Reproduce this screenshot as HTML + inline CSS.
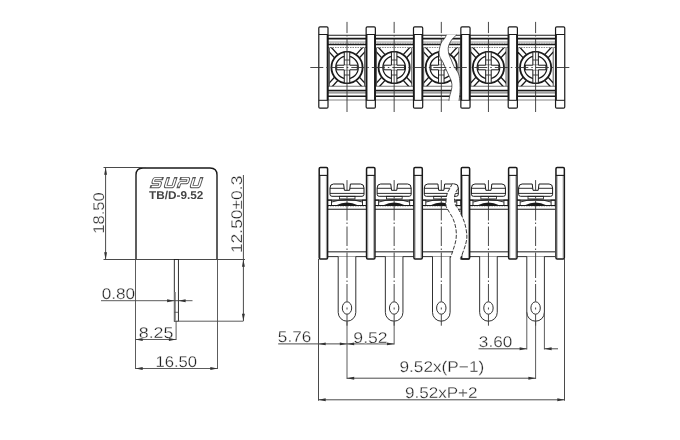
<!DOCTYPE html>
<html><head><meta charset="utf-8"><style>html,body{margin:0;padding:0;background:#fff;width:680px;height:440px;overflow:hidden}svg{display:block;filter:grayscale(1)}</style></head>
<body>
<svg width="680" height="440" viewBox="0 0 680 440" font-family="Liberation Sans, sans-serif">
<rect width="680" height="440" fill="#fff"/>
<line x1="327.50" y1="35.25" x2="366.50" y2="35.25" stroke="#1a1a1a" stroke-width="1" />
<line x1="327.50" y1="38.60" x2="366.50" y2="38.60" stroke="#1a1a1a" stroke-width="1.6" />
<line x1="327.50" y1="42.00" x2="366.50" y2="42.00" stroke="#777" stroke-width="0.8" />
<line x1="327.50" y1="43.30" x2="366.50" y2="43.30" stroke="#999" stroke-width="0.7" stroke-dasharray="1.5 1"/>
<line x1="327.50" y1="44.60" x2="366.50" y2="44.60" stroke="#1a1a1a" stroke-width="1.5" />
<line x1="327.50" y1="47.50" x2="366.50" y2="47.50" stroke="#666" stroke-width="0.8" stroke-dasharray="1.5 1"/>
<line x1="327.50" y1="86.25" x2="366.50" y2="86.25" stroke="#666" stroke-width="0.9" />
<line x1="327.50" y1="90.40" x2="366.50" y2="90.40" stroke="#1a1a1a" stroke-width="1.5" />
<line x1="327.50" y1="92.00" x2="366.50" y2="92.00" stroke="#999" stroke-width="1.3" />
<line x1="327.50" y1="93.10" x2="366.50" y2="93.10" stroke="#777" stroke-width="0.8" />
<line x1="327.50" y1="96.25" x2="366.50" y2="96.25" stroke="#1a1a1a" stroke-width="1.5" />
<line x1="327.50" y1="100.00" x2="366.50" y2="100.00" stroke="#777" stroke-width="0.9" />
<line x1="329.40" y1="47.50" x2="329.40" y2="86.25" stroke="#444" stroke-width="0.9" />
<line x1="364.60" y1="47.50" x2="364.60" y2="86.25" stroke="#444" stroke-width="0.9" />
<clipPath id="fc347"><rect x="329.40" y="47.5" width="35.2" height="38.75"/></clipPath>
<g clip-path="url(#fc347)">
<line x1="328.03" y1="43.87" x2="338.13" y2="54.87" stroke="#1a1a1a" stroke-width="1.4" />
<line x1="324.77" y1="47.13" x2="334.87" y2="58.13" stroke="#1a1a1a" stroke-width="1.4" />
<line x1="328.03" y1="91.13" x2="338.13" y2="80.13" stroke="#1a1a1a" stroke-width="1.4" />
<line x1="324.77" y1="87.87" x2="334.87" y2="76.87" stroke="#1a1a1a" stroke-width="1.4" />
<line x1="365.97" y1="43.87" x2="355.87" y2="54.87" stroke="#1a1a1a" stroke-width="1.4" />
<line x1="369.23" y1="47.13" x2="359.13" y2="58.13" stroke="#1a1a1a" stroke-width="1.4" />
<line x1="365.97" y1="91.13" x2="355.87" y2="80.13" stroke="#1a1a1a" stroke-width="1.4" />
<line x1="369.23" y1="87.87" x2="359.13" y2="76.87" stroke="#1a1a1a" stroke-width="1.4" />
</g>
<circle cx="347.0" cy="67.5" r="15.6" fill="#fff" stroke="#1a1a1a" stroke-width="1.8"/>
<circle cx="347.0" cy="67.5" r="11.3" fill="#fff" stroke="#1a1a1a" stroke-width="1.2"/>
<rect x="344.25" y="52" width="5.5" height="31" fill="#fff" stroke="#1a1a1a" stroke-width="1"/>
<rect x="336.70" y="65.2" width="20.6" height="4.6" fill="#fff" stroke="#1a1a1a" stroke-width="1"/>
<rect x="344.25" y="65.2" width="5.5" height="4.6" fill="#fff" stroke="none"/>
<line x1="344.25" y1="60.00" x2="349.75" y2="60.00" stroke="#1a1a1a" stroke-width="0.8" />
<line x1="344.25" y1="75.00" x2="349.75" y2="75.00" stroke="#1a1a1a" stroke-width="0.8" />
<line x1="347.00" y1="21.90" x2="347.00" y2="33.10" stroke="#333" stroke-width="0.9" />
<line x1="347.00" y1="35.30" x2="347.00" y2="36.50" stroke="#333" stroke-width="0.9" />
<line x1="347.00" y1="38.50" x2="347.00" y2="112.00" stroke="#333" stroke-width="0.9" />
<line x1="374.65" y1="35.25" x2="413.65" y2="35.25" stroke="#1a1a1a" stroke-width="1" />
<line x1="374.65" y1="38.60" x2="413.65" y2="38.60" stroke="#1a1a1a" stroke-width="1.6" />
<line x1="374.65" y1="42.00" x2="413.65" y2="42.00" stroke="#777" stroke-width="0.8" />
<line x1="374.65" y1="43.30" x2="413.65" y2="43.30" stroke="#999" stroke-width="0.7" stroke-dasharray="1.5 1"/>
<line x1="374.65" y1="44.60" x2="413.65" y2="44.60" stroke="#1a1a1a" stroke-width="1.5" />
<line x1="374.65" y1="47.50" x2="413.65" y2="47.50" stroke="#666" stroke-width="0.8" stroke-dasharray="1.5 1"/>
<line x1="374.65" y1="86.25" x2="413.65" y2="86.25" stroke="#666" stroke-width="0.9" />
<line x1="374.65" y1="90.40" x2="413.65" y2="90.40" stroke="#1a1a1a" stroke-width="1.5" />
<line x1="374.65" y1="92.00" x2="413.65" y2="92.00" stroke="#999" stroke-width="1.3" />
<line x1="374.65" y1="93.10" x2="413.65" y2="93.10" stroke="#777" stroke-width="0.8" />
<line x1="374.65" y1="96.25" x2="413.65" y2="96.25" stroke="#1a1a1a" stroke-width="1.5" />
<line x1="374.65" y1="100.00" x2="413.65" y2="100.00" stroke="#777" stroke-width="0.9" />
<line x1="376.55" y1="47.50" x2="376.55" y2="86.25" stroke="#444" stroke-width="0.9" />
<line x1="411.75" y1="47.50" x2="411.75" y2="86.25" stroke="#444" stroke-width="0.9" />
<clipPath id="fc394"><rect x="376.55" y="47.5" width="35.2" height="38.75"/></clipPath>
<g clip-path="url(#fc394)">
<line x1="375.18" y1="43.87" x2="385.28" y2="54.87" stroke="#1a1a1a" stroke-width="1.4" />
<line x1="371.92" y1="47.13" x2="382.02" y2="58.13" stroke="#1a1a1a" stroke-width="1.4" />
<line x1="375.18" y1="91.13" x2="385.28" y2="80.13" stroke="#1a1a1a" stroke-width="1.4" />
<line x1="371.92" y1="87.87" x2="382.02" y2="76.87" stroke="#1a1a1a" stroke-width="1.4" />
<line x1="413.12" y1="43.87" x2="403.02" y2="54.87" stroke="#1a1a1a" stroke-width="1.4" />
<line x1="416.38" y1="47.13" x2="406.28" y2="58.13" stroke="#1a1a1a" stroke-width="1.4" />
<line x1="413.12" y1="91.13" x2="403.02" y2="80.13" stroke="#1a1a1a" stroke-width="1.4" />
<line x1="416.38" y1="87.87" x2="406.28" y2="76.87" stroke="#1a1a1a" stroke-width="1.4" />
</g>
<circle cx="394.15" cy="67.5" r="15.6" fill="#fff" stroke="#1a1a1a" stroke-width="1.8"/>
<circle cx="394.15" cy="67.5" r="11.3" fill="#fff" stroke="#1a1a1a" stroke-width="1.2"/>
<rect x="391.40" y="52" width="5.5" height="31" fill="#fff" stroke="#1a1a1a" stroke-width="1"/>
<rect x="383.85" y="65.2" width="20.6" height="4.6" fill="#fff" stroke="#1a1a1a" stroke-width="1"/>
<rect x="391.40" y="65.2" width="5.5" height="4.6" fill="#fff" stroke="none"/>
<line x1="391.40" y1="60.00" x2="396.90" y2="60.00" stroke="#1a1a1a" stroke-width="0.8" />
<line x1="391.40" y1="75.00" x2="396.90" y2="75.00" stroke="#1a1a1a" stroke-width="0.8" />
<line x1="394.15" y1="21.90" x2="394.15" y2="33.10" stroke="#333" stroke-width="0.9" />
<line x1="394.15" y1="35.30" x2="394.15" y2="36.50" stroke="#333" stroke-width="0.9" />
<line x1="394.15" y1="38.50" x2="394.15" y2="112.00" stroke="#333" stroke-width="0.9" />
<line x1="421.80" y1="35.25" x2="460.80" y2="35.25" stroke="#1a1a1a" stroke-width="1" />
<line x1="421.80" y1="38.60" x2="460.80" y2="38.60" stroke="#1a1a1a" stroke-width="1.6" />
<line x1="421.80" y1="42.00" x2="460.80" y2="42.00" stroke="#777" stroke-width="0.8" />
<line x1="421.80" y1="43.30" x2="460.80" y2="43.30" stroke="#999" stroke-width="0.7" stroke-dasharray="1.5 1"/>
<line x1="421.80" y1="44.60" x2="460.80" y2="44.60" stroke="#1a1a1a" stroke-width="1.5" />
<line x1="421.80" y1="47.50" x2="460.80" y2="47.50" stroke="#666" stroke-width="0.8" stroke-dasharray="1.5 1"/>
<line x1="421.80" y1="86.25" x2="460.80" y2="86.25" stroke="#666" stroke-width="0.9" />
<line x1="421.80" y1="90.40" x2="460.80" y2="90.40" stroke="#1a1a1a" stroke-width="1.5" />
<line x1="421.80" y1="92.00" x2="460.80" y2="92.00" stroke="#999" stroke-width="1.3" />
<line x1="421.80" y1="93.10" x2="460.80" y2="93.10" stroke="#777" stroke-width="0.8" />
<line x1="421.80" y1="96.25" x2="460.80" y2="96.25" stroke="#1a1a1a" stroke-width="1.5" />
<line x1="421.80" y1="100.00" x2="460.80" y2="100.00" stroke="#777" stroke-width="0.9" />
<line x1="423.70" y1="47.50" x2="423.70" y2="86.25" stroke="#444" stroke-width="0.9" />
<line x1="458.90" y1="47.50" x2="458.90" y2="86.25" stroke="#444" stroke-width="0.9" />
<clipPath id="fc441"><rect x="423.70" y="47.5" width="35.2" height="38.75"/></clipPath>
<g clip-path="url(#fc441)">
<line x1="422.33" y1="43.87" x2="432.43" y2="54.87" stroke="#1a1a1a" stroke-width="1.4" />
<line x1="419.07" y1="47.13" x2="429.17" y2="58.13" stroke="#1a1a1a" stroke-width="1.4" />
<line x1="422.33" y1="91.13" x2="432.43" y2="80.13" stroke="#1a1a1a" stroke-width="1.4" />
<line x1="419.07" y1="87.87" x2="429.17" y2="76.87" stroke="#1a1a1a" stroke-width="1.4" />
<line x1="460.27" y1="43.87" x2="450.17" y2="54.87" stroke="#1a1a1a" stroke-width="1.4" />
<line x1="463.53" y1="47.13" x2="453.43" y2="58.13" stroke="#1a1a1a" stroke-width="1.4" />
<line x1="460.27" y1="91.13" x2="450.17" y2="80.13" stroke="#1a1a1a" stroke-width="1.4" />
<line x1="463.53" y1="87.87" x2="453.43" y2="76.87" stroke="#1a1a1a" stroke-width="1.4" />
</g>
<circle cx="441.3" cy="67.5" r="15.6" fill="#fff" stroke="#1a1a1a" stroke-width="1.8"/>
<circle cx="441.3" cy="67.5" r="11.3" fill="#fff" stroke="#1a1a1a" stroke-width="1.2"/>
<rect x="438.55" y="52" width="5.5" height="31" fill="#fff" stroke="#1a1a1a" stroke-width="1"/>
<rect x="431.00" y="65.2" width="20.6" height="4.6" fill="#fff" stroke="#1a1a1a" stroke-width="1"/>
<rect x="438.55" y="65.2" width="5.5" height="4.6" fill="#fff" stroke="none"/>
<line x1="438.55" y1="60.00" x2="444.05" y2="60.00" stroke="#1a1a1a" stroke-width="0.8" />
<line x1="438.55" y1="75.00" x2="444.05" y2="75.00" stroke="#1a1a1a" stroke-width="0.8" />
<line x1="441.30" y1="21.90" x2="441.30" y2="33.10" stroke="#333" stroke-width="0.9" />
<line x1="441.30" y1="35.30" x2="441.30" y2="36.50" stroke="#333" stroke-width="0.9" />
<line x1="441.30" y1="38.50" x2="441.30" y2="112.00" stroke="#333" stroke-width="0.9" />
<line x1="468.95" y1="35.25" x2="507.95" y2="35.25" stroke="#1a1a1a" stroke-width="1" />
<line x1="468.95" y1="38.60" x2="507.95" y2="38.60" stroke="#1a1a1a" stroke-width="1.6" />
<line x1="468.95" y1="42.00" x2="507.95" y2="42.00" stroke="#777" stroke-width="0.8" />
<line x1="468.95" y1="43.30" x2="507.95" y2="43.30" stroke="#999" stroke-width="0.7" stroke-dasharray="1.5 1"/>
<line x1="468.95" y1="44.60" x2="507.95" y2="44.60" stroke="#1a1a1a" stroke-width="1.5" />
<line x1="468.95" y1="47.50" x2="507.95" y2="47.50" stroke="#666" stroke-width="0.8" stroke-dasharray="1.5 1"/>
<line x1="468.95" y1="86.25" x2="507.95" y2="86.25" stroke="#666" stroke-width="0.9" />
<line x1="468.95" y1="90.40" x2="507.95" y2="90.40" stroke="#1a1a1a" stroke-width="1.5" />
<line x1="468.95" y1="92.00" x2="507.95" y2="92.00" stroke="#999" stroke-width="1.3" />
<line x1="468.95" y1="93.10" x2="507.95" y2="93.10" stroke="#777" stroke-width="0.8" />
<line x1="468.95" y1="96.25" x2="507.95" y2="96.25" stroke="#1a1a1a" stroke-width="1.5" />
<line x1="468.95" y1="100.00" x2="507.95" y2="100.00" stroke="#777" stroke-width="0.9" />
<line x1="470.85" y1="47.50" x2="470.85" y2="86.25" stroke="#444" stroke-width="0.9" />
<line x1="506.05" y1="47.50" x2="506.05" y2="86.25" stroke="#444" stroke-width="0.9" />
<clipPath id="fc488"><rect x="470.85" y="47.5" width="35.2" height="38.75"/></clipPath>
<g clip-path="url(#fc488)">
<line x1="469.48" y1="43.87" x2="479.58" y2="54.87" stroke="#1a1a1a" stroke-width="1.4" />
<line x1="466.22" y1="47.13" x2="476.32" y2="58.13" stroke="#1a1a1a" stroke-width="1.4" />
<line x1="469.48" y1="91.13" x2="479.58" y2="80.13" stroke="#1a1a1a" stroke-width="1.4" />
<line x1="466.22" y1="87.87" x2="476.32" y2="76.87" stroke="#1a1a1a" stroke-width="1.4" />
<line x1="507.42" y1="43.87" x2="497.32" y2="54.87" stroke="#1a1a1a" stroke-width="1.4" />
<line x1="510.68" y1="47.13" x2="500.58" y2="58.13" stroke="#1a1a1a" stroke-width="1.4" />
<line x1="507.42" y1="91.13" x2="497.32" y2="80.13" stroke="#1a1a1a" stroke-width="1.4" />
<line x1="510.68" y1="87.87" x2="500.58" y2="76.87" stroke="#1a1a1a" stroke-width="1.4" />
</g>
<circle cx="488.45" cy="67.5" r="15.6" fill="#fff" stroke="#1a1a1a" stroke-width="1.8"/>
<circle cx="488.45" cy="67.5" r="11.3" fill="#fff" stroke="#1a1a1a" stroke-width="1.2"/>
<rect x="485.70" y="52" width="5.5" height="31" fill="#fff" stroke="#1a1a1a" stroke-width="1"/>
<rect x="478.15" y="65.2" width="20.6" height="4.6" fill="#fff" stroke="#1a1a1a" stroke-width="1"/>
<rect x="485.70" y="65.2" width="5.5" height="4.6" fill="#fff" stroke="none"/>
<line x1="485.70" y1="60.00" x2="491.20" y2="60.00" stroke="#1a1a1a" stroke-width="0.8" />
<line x1="485.70" y1="75.00" x2="491.20" y2="75.00" stroke="#1a1a1a" stroke-width="0.8" />
<line x1="488.45" y1="21.90" x2="488.45" y2="33.10" stroke="#333" stroke-width="0.9" />
<line x1="488.45" y1="35.30" x2="488.45" y2="36.50" stroke="#333" stroke-width="0.9" />
<line x1="488.45" y1="38.50" x2="488.45" y2="112.00" stroke="#333" stroke-width="0.9" />
<line x1="516.10" y1="35.25" x2="555.10" y2="35.25" stroke="#1a1a1a" stroke-width="1" />
<line x1="516.10" y1="38.60" x2="555.10" y2="38.60" stroke="#1a1a1a" stroke-width="1.6" />
<line x1="516.10" y1="42.00" x2="555.10" y2="42.00" stroke="#777" stroke-width="0.8" />
<line x1="516.10" y1="43.30" x2="555.10" y2="43.30" stroke="#999" stroke-width="0.7" stroke-dasharray="1.5 1"/>
<line x1="516.10" y1="44.60" x2="555.10" y2="44.60" stroke="#1a1a1a" stroke-width="1.5" />
<line x1="516.10" y1="47.50" x2="555.10" y2="47.50" stroke="#666" stroke-width="0.8" stroke-dasharray="1.5 1"/>
<line x1="516.10" y1="86.25" x2="555.10" y2="86.25" stroke="#666" stroke-width="0.9" />
<line x1="516.10" y1="90.40" x2="555.10" y2="90.40" stroke="#1a1a1a" stroke-width="1.5" />
<line x1="516.10" y1="92.00" x2="555.10" y2="92.00" stroke="#999" stroke-width="1.3" />
<line x1="516.10" y1="93.10" x2="555.10" y2="93.10" stroke="#777" stroke-width="0.8" />
<line x1="516.10" y1="96.25" x2="555.10" y2="96.25" stroke="#1a1a1a" stroke-width="1.5" />
<line x1="516.10" y1="100.00" x2="555.10" y2="100.00" stroke="#777" stroke-width="0.9" />
<line x1="518.00" y1="47.50" x2="518.00" y2="86.25" stroke="#444" stroke-width="0.9" />
<line x1="553.20" y1="47.50" x2="553.20" y2="86.25" stroke="#444" stroke-width="0.9" />
<clipPath id="fc535"><rect x="518.00" y="47.5" width="35.2" height="38.75"/></clipPath>
<g clip-path="url(#fc535)">
<line x1="516.63" y1="43.87" x2="526.73" y2="54.87" stroke="#1a1a1a" stroke-width="1.4" />
<line x1="513.37" y1="47.13" x2="523.47" y2="58.13" stroke="#1a1a1a" stroke-width="1.4" />
<line x1="516.63" y1="91.13" x2="526.73" y2="80.13" stroke="#1a1a1a" stroke-width="1.4" />
<line x1="513.37" y1="87.87" x2="523.47" y2="76.87" stroke="#1a1a1a" stroke-width="1.4" />
<line x1="554.57" y1="43.87" x2="544.47" y2="54.87" stroke="#1a1a1a" stroke-width="1.4" />
<line x1="557.83" y1="47.13" x2="547.73" y2="58.13" stroke="#1a1a1a" stroke-width="1.4" />
<line x1="554.57" y1="91.13" x2="544.47" y2="80.13" stroke="#1a1a1a" stroke-width="1.4" />
<line x1="557.83" y1="87.87" x2="547.73" y2="76.87" stroke="#1a1a1a" stroke-width="1.4" />
</g>
<circle cx="535.6" cy="67.5" r="15.6" fill="#fff" stroke="#1a1a1a" stroke-width="1.8"/>
<circle cx="535.6" cy="67.5" r="11.3" fill="#fff" stroke="#1a1a1a" stroke-width="1.2"/>
<rect x="532.85" y="52" width="5.5" height="31" fill="#fff" stroke="#1a1a1a" stroke-width="1"/>
<rect x="525.30" y="65.2" width="20.6" height="4.6" fill="#fff" stroke="#1a1a1a" stroke-width="1"/>
<rect x="532.85" y="65.2" width="5.5" height="4.6" fill="#fff" stroke="none"/>
<line x1="532.85" y1="60.00" x2="538.35" y2="60.00" stroke="#1a1a1a" stroke-width="0.8" />
<line x1="532.85" y1="75.00" x2="538.35" y2="75.00" stroke="#1a1a1a" stroke-width="0.8" />
<line x1="535.60" y1="21.90" x2="535.60" y2="33.10" stroke="#333" stroke-width="0.9" />
<line x1="535.60" y1="35.30" x2="535.60" y2="36.50" stroke="#333" stroke-width="0.9" />
<line x1="535.60" y1="38.50" x2="535.60" y2="112.00" stroke="#333" stroke-width="0.9" />
<rect x="318.80" y="26.9" width="9.2" height="81.20" rx="1.2" fill="#fff" stroke="#1a1a1a" stroke-width="1.2"/>
<line x1="318.80" y1="34.50" x2="328.00" y2="34.50" stroke="#1a1a1a" stroke-width="1" />
<line x1="318.80" y1="100.30" x2="328.00" y2="100.30" stroke="#1a1a1a" stroke-width="1" />
<line x1="327.50" y1="35.00" x2="327.50" y2="100.00" stroke="#1a1a1a" stroke-width="1.6" />
<rect x="366.15" y="26.9" width="9.2" height="81.20" rx="1.2" fill="#fff" stroke="#1a1a1a" stroke-width="1.2"/>
<line x1="366.15" y1="34.50" x2="375.35" y2="34.50" stroke="#1a1a1a" stroke-width="1" />
<line x1="366.15" y1="100.30" x2="375.35" y2="100.30" stroke="#1a1a1a" stroke-width="1" />
<line x1="374.85" y1="35.00" x2="374.85" y2="100.00" stroke="#1a1a1a" stroke-width="1.6" />
<line x1="366.65" y1="35.00" x2="366.65" y2="100.00" stroke="#1a1a1a" stroke-width="1.6" />
<rect x="413.50" y="26.9" width="9.2" height="81.20" rx="1.2" fill="#fff" stroke="#1a1a1a" stroke-width="1.2"/>
<line x1="413.50" y1="34.50" x2="422.70" y2="34.50" stroke="#1a1a1a" stroke-width="1" />
<line x1="413.50" y1="100.30" x2="422.70" y2="100.30" stroke="#1a1a1a" stroke-width="1" />
<line x1="422.20" y1="35.00" x2="422.20" y2="100.00" stroke="#1a1a1a" stroke-width="1.6" />
<line x1="414.00" y1="35.00" x2="414.00" y2="100.00" stroke="#1a1a1a" stroke-width="1.6" />
<rect x="460.85" y="26.9" width="9.2" height="81.20" rx="1.2" fill="#fff" stroke="#1a1a1a" stroke-width="1.2"/>
<line x1="460.85" y1="34.50" x2="470.05" y2="34.50" stroke="#1a1a1a" stroke-width="1" />
<line x1="460.85" y1="100.30" x2="470.05" y2="100.30" stroke="#1a1a1a" stroke-width="1" />
<line x1="469.55" y1="35.00" x2="469.55" y2="100.00" stroke="#1a1a1a" stroke-width="1.6" />
<line x1="461.35" y1="35.00" x2="461.35" y2="100.00" stroke="#1a1a1a" stroke-width="1.6" />
<rect x="508.20" y="26.9" width="9.2" height="81.20" rx="1.2" fill="#fff" stroke="#1a1a1a" stroke-width="1.2"/>
<line x1="508.20" y1="34.50" x2="517.40" y2="34.50" stroke="#1a1a1a" stroke-width="1" />
<line x1="508.20" y1="100.30" x2="517.40" y2="100.30" stroke="#1a1a1a" stroke-width="1" />
<line x1="516.90" y1="35.00" x2="516.90" y2="100.00" stroke="#1a1a1a" stroke-width="1.6" />
<line x1="508.70" y1="35.00" x2="508.70" y2="100.00" stroke="#1a1a1a" stroke-width="1.6" />
<rect x="555.55" y="26.9" width="9.2" height="81.20" rx="1.2" fill="#fff" stroke="#1a1a1a" stroke-width="1.2"/>
<line x1="555.55" y1="34.50" x2="564.75" y2="34.50" stroke="#1a1a1a" stroke-width="1" />
<line x1="555.55" y1="100.30" x2="564.75" y2="100.30" stroke="#1a1a1a" stroke-width="1" />
<line x1="556.05" y1="35.00" x2="556.05" y2="100.00" stroke="#1a1a1a" stroke-width="1.6" />
<path d="M343.60,184 L333.50,184 Q330.00,184 330.00,188 L330.00,194.3 Q330.00,196.3 332.00,196.3 L362.00,196.3 Q364.00,196.3 364.00,194.3 L364.00,188 Q364.00,184 360.50,184 L350.40,184 L349.60,190.3 L344.40,190.3 Z" fill="#fff" stroke="#1a1a1a" stroke-width="1"/>
<line x1="330.00" y1="188.30" x2="344.00" y2="188.30" stroke="#1a1a1a" stroke-width="0.9" />
<line x1="350.00" y1="188.30" x2="364.00" y2="188.30" stroke="#1a1a1a" stroke-width="0.9" />
<line x1="330.00" y1="193.40" x2="364.00" y2="193.40" stroke="#1a1a1a" stroke-width="0.9" />
<rect x="339.40" y="196.3" width="15.6" height="2.6" fill="none" stroke="#1a1a1a" stroke-width="0.8"/>
<line x1="327.50" y1="200.10" x2="366.50" y2="200.10" stroke="#1a1a1a" stroke-width="1.1" />
<rect x="327.50" y="200.1" width="4" height="5.4" fill="none" stroke="#1a1a1a" stroke-width="0.9"/>
<rect x="362.50" y="200.1" width="4" height="5.4" fill="none" stroke="#1a1a1a" stroke-width="0.9"/>
<path d="M331.70,202 Q339.00,199.6 347.00,199.6 Q355.00,199.6 362.30,202" fill="none" stroke="#1a1a1a" stroke-width="0.9"/>
<path d="M335.50,205.5 Q342.00,202.6 347.00,202.6 Q352.00,202.6 358.50,205.5 Z" fill="#1a1a1a"/>
<line x1="327.50" y1="205.50" x2="366.50" y2="205.50" stroke="#1a1a1a" stroke-width="1.1" />
<line x1="327.50" y1="206.60" x2="366.50" y2="206.60" stroke="#999" stroke-width="0.6" stroke-dasharray="1.5 1"/>
<line x1="327.50" y1="209.20" x2="366.50" y2="209.20" stroke="#1a1a1a" stroke-width="1.1" />
<line x1="327.50" y1="251.80" x2="366.50" y2="251.80" stroke="#666" stroke-width="1.4" />
<line x1="327.50" y1="256.60" x2="366.50" y2="256.60" stroke="#333" stroke-width="1" />
<path d="M338.20,256.6 L338.20,312.4 A8.8,8.8 0 0 0 355.80,312.4 L355.80,256.6" fill="#fff" stroke="#1a1a1a" stroke-width="0.9"/>
<ellipse cx="347.0" cy="308" rx="4.7" ry="6.2" fill="none" stroke="#1a1a1a" stroke-width="0.9"/>
<line x1="347.00" y1="180.10" x2="347.00" y2="190.30" stroke="#333" stroke-width="0.9" />
<line x1="347.00" y1="196.50" x2="347.00" y2="198.50" stroke="#333" stroke-width="0.9" />
<line x1="347.00" y1="201.00" x2="347.00" y2="203.00" stroke="#333" stroke-width="0.9" />
<line x1="347.00" y1="205.50" x2="347.00" y2="220.50" stroke="#333" stroke-width="0.9" />
<line x1="347.00" y1="222.50" x2="347.00" y2="224.00" stroke="#333" stroke-width="0.9" />
<line x1="347.00" y1="226.50" x2="347.00" y2="246.00" stroke="#333" stroke-width="0.9" />
<line x1="347.00" y1="248.50" x2="347.00" y2="250.00" stroke="#333" stroke-width="0.9" />
<line x1="347.00" y1="252.50" x2="347.00" y2="278.00" stroke="#333" stroke-width="0.9" />
<line x1="347.00" y1="280.50" x2="347.00" y2="282.00" stroke="#333" stroke-width="0.9" />
<line x1="347.00" y1="284.00" x2="347.00" y2="301.50" stroke="#333" stroke-width="0.9" />
<line x1="347.00" y1="307.50" x2="347.00" y2="309.50" stroke="#333" stroke-width="0.9" />
<line x1="347.00" y1="314.30" x2="347.00" y2="325.70" stroke="#333" stroke-width="0.9" />
<path d="M390.75,184 L380.65,184 Q377.15,184 377.15,188 L377.15,194.3 Q377.15,196.3 379.15,196.3 L409.15,196.3 Q411.15,196.3 411.15,194.3 L411.15,188 Q411.15,184 407.65,184 L397.55,184 L396.75,190.3 L391.55,190.3 Z" fill="#fff" stroke="#1a1a1a" stroke-width="1"/>
<line x1="377.15" y1="188.30" x2="391.15" y2="188.30" stroke="#1a1a1a" stroke-width="0.9" />
<line x1="397.15" y1="188.30" x2="411.15" y2="188.30" stroke="#1a1a1a" stroke-width="0.9" />
<line x1="377.15" y1="193.40" x2="411.15" y2="193.40" stroke="#1a1a1a" stroke-width="0.9" />
<rect x="386.55" y="196.3" width="15.6" height="2.6" fill="none" stroke="#1a1a1a" stroke-width="0.8"/>
<line x1="374.65" y1="200.10" x2="413.65" y2="200.10" stroke="#1a1a1a" stroke-width="1.1" />
<rect x="374.65" y="200.1" width="4" height="5.4" fill="none" stroke="#1a1a1a" stroke-width="0.9"/>
<rect x="409.65" y="200.1" width="4" height="5.4" fill="none" stroke="#1a1a1a" stroke-width="0.9"/>
<path d="M378.85,202 Q386.15,199.6 394.15,199.6 Q402.15,199.6 409.45,202" fill="none" stroke="#1a1a1a" stroke-width="0.9"/>
<path d="M382.65,205.5 Q389.15,202.6 394.15,202.6 Q399.15,202.6 405.65,205.5 Z" fill="#1a1a1a"/>
<line x1="374.65" y1="205.50" x2="413.65" y2="205.50" stroke="#1a1a1a" stroke-width="1.1" />
<line x1="374.65" y1="206.60" x2="413.65" y2="206.60" stroke="#999" stroke-width="0.6" stroke-dasharray="1.5 1"/>
<line x1="374.65" y1="209.20" x2="413.65" y2="209.20" stroke="#1a1a1a" stroke-width="1.1" />
<line x1="374.65" y1="251.80" x2="413.65" y2="251.80" stroke="#666" stroke-width="1.4" />
<line x1="374.65" y1="256.60" x2="413.65" y2="256.60" stroke="#333" stroke-width="1" />
<path d="M385.35,256.6 L385.35,312.4 A8.8,8.8 0 0 0 402.95,312.4 L402.95,256.6" fill="#fff" stroke="#1a1a1a" stroke-width="0.9"/>
<ellipse cx="394.15" cy="308" rx="4.7" ry="6.2" fill="none" stroke="#1a1a1a" stroke-width="0.9"/>
<line x1="394.15" y1="180.10" x2="394.15" y2="190.30" stroke="#333" stroke-width="0.9" />
<line x1="394.15" y1="196.50" x2="394.15" y2="198.50" stroke="#333" stroke-width="0.9" />
<line x1="394.15" y1="201.00" x2="394.15" y2="203.00" stroke="#333" stroke-width="0.9" />
<line x1="394.15" y1="205.50" x2="394.15" y2="220.50" stroke="#333" stroke-width="0.9" />
<line x1="394.15" y1="222.50" x2="394.15" y2="224.00" stroke="#333" stroke-width="0.9" />
<line x1="394.15" y1="226.50" x2="394.15" y2="246.00" stroke="#333" stroke-width="0.9" />
<line x1="394.15" y1="248.50" x2="394.15" y2="250.00" stroke="#333" stroke-width="0.9" />
<line x1="394.15" y1="252.50" x2="394.15" y2="278.00" stroke="#333" stroke-width="0.9" />
<line x1="394.15" y1="280.50" x2="394.15" y2="282.00" stroke="#333" stroke-width="0.9" />
<line x1="394.15" y1="284.00" x2="394.15" y2="301.50" stroke="#333" stroke-width="0.9" />
<line x1="394.15" y1="307.50" x2="394.15" y2="309.50" stroke="#333" stroke-width="0.9" />
<line x1="394.15" y1="314.30" x2="394.15" y2="325.70" stroke="#333" stroke-width="0.9" />
<path d="M437.90,184 L427.80,184 Q424.30,184 424.30,188 L424.30,194.3 Q424.30,196.3 426.30,196.3 L456.30,196.3 Q458.30,196.3 458.30,194.3 L458.30,188 Q458.30,184 454.80,184 L444.70,184 L443.90,190.3 L438.70,190.3 Z" fill="#fff" stroke="#1a1a1a" stroke-width="1"/>
<line x1="424.30" y1="188.30" x2="438.30" y2="188.30" stroke="#1a1a1a" stroke-width="0.9" />
<line x1="444.30" y1="188.30" x2="458.30" y2="188.30" stroke="#1a1a1a" stroke-width="0.9" />
<line x1="424.30" y1="193.40" x2="458.30" y2="193.40" stroke="#1a1a1a" stroke-width="0.9" />
<rect x="433.70" y="196.3" width="15.6" height="2.6" fill="none" stroke="#1a1a1a" stroke-width="0.8"/>
<line x1="421.80" y1="200.10" x2="460.80" y2="200.10" stroke="#1a1a1a" stroke-width="1.1" />
<rect x="421.80" y="200.1" width="4" height="5.4" fill="none" stroke="#1a1a1a" stroke-width="0.9"/>
<rect x="456.80" y="200.1" width="4" height="5.4" fill="none" stroke="#1a1a1a" stroke-width="0.9"/>
<path d="M426.00,202 Q433.30,199.6 441.30,199.6 Q449.30,199.6 456.60,202" fill="none" stroke="#1a1a1a" stroke-width="0.9"/>
<path d="M429.80,205.5 Q436.30,202.6 441.30,202.6 Q446.30,202.6 452.80,205.5 Z" fill="#1a1a1a"/>
<line x1="421.80" y1="205.50" x2="460.80" y2="205.50" stroke="#1a1a1a" stroke-width="1.1" />
<line x1="421.80" y1="206.60" x2="460.80" y2="206.60" stroke="#999" stroke-width="0.6" stroke-dasharray="1.5 1"/>
<line x1="421.80" y1="209.20" x2="460.80" y2="209.20" stroke="#1a1a1a" stroke-width="1.1" />
<line x1="421.80" y1="251.80" x2="460.80" y2="251.80" stroke="#666" stroke-width="1.4" />
<line x1="421.80" y1="256.60" x2="460.80" y2="256.60" stroke="#333" stroke-width="1" />
<path d="M432.50,256.6 L432.50,312.4 A8.8,8.8 0 0 0 450.10,312.4 L450.10,256.6" fill="#fff" stroke="#1a1a1a" stroke-width="0.9"/>
<ellipse cx="441.3" cy="308" rx="4.7" ry="6.2" fill="none" stroke="#1a1a1a" stroke-width="0.9"/>
<line x1="441.30" y1="180.10" x2="441.30" y2="190.30" stroke="#333" stroke-width="0.9" />
<line x1="441.30" y1="196.50" x2="441.30" y2="198.50" stroke="#333" stroke-width="0.9" />
<line x1="441.30" y1="201.00" x2="441.30" y2="203.00" stroke="#333" stroke-width="0.9" />
<line x1="441.30" y1="205.50" x2="441.30" y2="220.50" stroke="#333" stroke-width="0.9" />
<line x1="441.30" y1="222.50" x2="441.30" y2="224.00" stroke="#333" stroke-width="0.9" />
<line x1="441.30" y1="226.50" x2="441.30" y2="246.00" stroke="#333" stroke-width="0.9" />
<line x1="441.30" y1="248.50" x2="441.30" y2="250.00" stroke="#333" stroke-width="0.9" />
<line x1="441.30" y1="252.50" x2="441.30" y2="278.00" stroke="#333" stroke-width="0.9" />
<line x1="441.30" y1="280.50" x2="441.30" y2="282.00" stroke="#333" stroke-width="0.9" />
<line x1="441.30" y1="284.00" x2="441.30" y2="301.50" stroke="#333" stroke-width="0.9" />
<line x1="441.30" y1="307.50" x2="441.30" y2="309.50" stroke="#333" stroke-width="0.9" />
<line x1="441.30" y1="314.30" x2="441.30" y2="325.70" stroke="#333" stroke-width="0.9" />
<path d="M485.05,184 L474.95,184 Q471.45,184 471.45,188 L471.45,194.3 Q471.45,196.3 473.45,196.3 L503.45,196.3 Q505.45,196.3 505.45,194.3 L505.45,188 Q505.45,184 501.95,184 L491.85,184 L491.05,190.3 L485.85,190.3 Z" fill="#fff" stroke="#1a1a1a" stroke-width="1"/>
<line x1="471.45" y1="188.30" x2="485.45" y2="188.30" stroke="#1a1a1a" stroke-width="0.9" />
<line x1="491.45" y1="188.30" x2="505.45" y2="188.30" stroke="#1a1a1a" stroke-width="0.9" />
<line x1="471.45" y1="193.40" x2="505.45" y2="193.40" stroke="#1a1a1a" stroke-width="0.9" />
<rect x="480.85" y="196.3" width="15.6" height="2.6" fill="none" stroke="#1a1a1a" stroke-width="0.8"/>
<line x1="468.95" y1="200.10" x2="507.95" y2="200.10" stroke="#1a1a1a" stroke-width="1.1" />
<rect x="468.95" y="200.1" width="4" height="5.4" fill="none" stroke="#1a1a1a" stroke-width="0.9"/>
<rect x="503.95" y="200.1" width="4" height="5.4" fill="none" stroke="#1a1a1a" stroke-width="0.9"/>
<path d="M473.15,202 Q480.45,199.6 488.45,199.6 Q496.45,199.6 503.75,202" fill="none" stroke="#1a1a1a" stroke-width="0.9"/>
<path d="M476.95,205.5 Q483.45,202.6 488.45,202.6 Q493.45,202.6 499.95,205.5 Z" fill="#1a1a1a"/>
<line x1="468.95" y1="205.50" x2="507.95" y2="205.50" stroke="#1a1a1a" stroke-width="1.1" />
<line x1="468.95" y1="206.60" x2="507.95" y2="206.60" stroke="#999" stroke-width="0.6" stroke-dasharray="1.5 1"/>
<line x1="468.95" y1="209.20" x2="507.95" y2="209.20" stroke="#1a1a1a" stroke-width="1.1" />
<line x1="468.95" y1="251.80" x2="507.95" y2="251.80" stroke="#666" stroke-width="1.4" />
<line x1="468.95" y1="256.60" x2="507.95" y2="256.60" stroke="#333" stroke-width="1" />
<path d="M479.65,256.6 L479.65,312.4 A8.8,8.8 0 0 0 497.25,312.4 L497.25,256.6" fill="#fff" stroke="#1a1a1a" stroke-width="0.9"/>
<ellipse cx="488.45" cy="308" rx="4.7" ry="6.2" fill="none" stroke="#1a1a1a" stroke-width="0.9"/>
<line x1="488.45" y1="180.10" x2="488.45" y2="190.30" stroke="#333" stroke-width="0.9" />
<line x1="488.45" y1="196.50" x2="488.45" y2="198.50" stroke="#333" stroke-width="0.9" />
<line x1="488.45" y1="201.00" x2="488.45" y2="203.00" stroke="#333" stroke-width="0.9" />
<line x1="488.45" y1="205.50" x2="488.45" y2="220.50" stroke="#333" stroke-width="0.9" />
<line x1="488.45" y1="222.50" x2="488.45" y2="224.00" stroke="#333" stroke-width="0.9" />
<line x1="488.45" y1="226.50" x2="488.45" y2="246.00" stroke="#333" stroke-width="0.9" />
<line x1="488.45" y1="248.50" x2="488.45" y2="250.00" stroke="#333" stroke-width="0.9" />
<line x1="488.45" y1="252.50" x2="488.45" y2="278.00" stroke="#333" stroke-width="0.9" />
<line x1="488.45" y1="280.50" x2="488.45" y2="282.00" stroke="#333" stroke-width="0.9" />
<line x1="488.45" y1="284.00" x2="488.45" y2="301.50" stroke="#333" stroke-width="0.9" />
<line x1="488.45" y1="307.50" x2="488.45" y2="309.50" stroke="#333" stroke-width="0.9" />
<line x1="488.45" y1="314.30" x2="488.45" y2="325.70" stroke="#333" stroke-width="0.9" />
<path d="M532.20,184 L522.10,184 Q518.60,184 518.60,188 L518.60,194.3 Q518.60,196.3 520.60,196.3 L550.60,196.3 Q552.60,196.3 552.60,194.3 L552.60,188 Q552.60,184 549.10,184 L539.00,184 L538.20,190.3 L533.00,190.3 Z" fill="#fff" stroke="#1a1a1a" stroke-width="1"/>
<line x1="518.60" y1="188.30" x2="532.60" y2="188.30" stroke="#1a1a1a" stroke-width="0.9" />
<line x1="538.60" y1="188.30" x2="552.60" y2="188.30" stroke="#1a1a1a" stroke-width="0.9" />
<line x1="518.60" y1="193.40" x2="552.60" y2="193.40" stroke="#1a1a1a" stroke-width="0.9" />
<rect x="528.00" y="196.3" width="15.6" height="2.6" fill="none" stroke="#1a1a1a" stroke-width="0.8"/>
<line x1="516.10" y1="200.10" x2="555.10" y2="200.10" stroke="#1a1a1a" stroke-width="1.1" />
<rect x="516.10" y="200.1" width="4" height="5.4" fill="none" stroke="#1a1a1a" stroke-width="0.9"/>
<rect x="551.10" y="200.1" width="4" height="5.4" fill="none" stroke="#1a1a1a" stroke-width="0.9"/>
<path d="M520.30,202 Q527.60,199.6 535.60,199.6 Q543.60,199.6 550.90,202" fill="none" stroke="#1a1a1a" stroke-width="0.9"/>
<path d="M524.10,205.5 Q530.60,202.6 535.60,202.6 Q540.60,202.6 547.10,205.5 Z" fill="#1a1a1a"/>
<line x1="516.10" y1="205.50" x2="555.10" y2="205.50" stroke="#1a1a1a" stroke-width="1.1" />
<line x1="516.10" y1="206.60" x2="555.10" y2="206.60" stroke="#999" stroke-width="0.6" stroke-dasharray="1.5 1"/>
<line x1="516.10" y1="209.20" x2="555.10" y2="209.20" stroke="#1a1a1a" stroke-width="1.1" />
<line x1="516.10" y1="251.80" x2="555.10" y2="251.80" stroke="#666" stroke-width="1.4" />
<line x1="516.10" y1="256.60" x2="555.10" y2="256.60" stroke="#333" stroke-width="1" />
<path d="M526.80,256.6 L526.80,312.4 A8.8,8.8 0 0 0 544.40,312.4 L544.40,256.6" fill="#fff" stroke="#1a1a1a" stroke-width="0.9"/>
<ellipse cx="535.6" cy="308" rx="4.7" ry="6.2" fill="none" stroke="#1a1a1a" stroke-width="0.9"/>
<line x1="535.60" y1="180.10" x2="535.60" y2="190.30" stroke="#333" stroke-width="0.9" />
<line x1="535.60" y1="196.50" x2="535.60" y2="198.50" stroke="#333" stroke-width="0.9" />
<line x1="535.60" y1="201.00" x2="535.60" y2="203.00" stroke="#333" stroke-width="0.9" />
<line x1="535.60" y1="205.50" x2="535.60" y2="220.50" stroke="#333" stroke-width="0.9" />
<line x1="535.60" y1="222.50" x2="535.60" y2="224.00" stroke="#333" stroke-width="0.9" />
<line x1="535.60" y1="226.50" x2="535.60" y2="246.00" stroke="#333" stroke-width="0.9" />
<line x1="535.60" y1="248.50" x2="535.60" y2="250.00" stroke="#333" stroke-width="0.9" />
<line x1="535.60" y1="252.50" x2="535.60" y2="278.00" stroke="#333" stroke-width="0.9" />
<line x1="535.60" y1="280.50" x2="535.60" y2="282.00" stroke="#333" stroke-width="0.9" />
<line x1="535.60" y1="284.00" x2="535.60" y2="301.50" stroke="#333" stroke-width="0.9" />
<line x1="535.60" y1="307.50" x2="535.60" y2="309.50" stroke="#333" stroke-width="0.9" />
<line x1="535.60" y1="314.30" x2="535.60" y2="325.70" stroke="#333" stroke-width="0.9" />
<rect x="319.20" y="167.5" width="8.4" height="91.50" rx="1.2" fill="#fff" stroke="#1a1a1a" stroke-width="1.5"/>
<line x1="320.40" y1="176.00" x2="320.40" y2="258.00" stroke="#666" stroke-width="0.6" />
<line x1="326.40" y1="176.00" x2="326.40" y2="258.00" stroke="#666" stroke-width="0.6" />
<line x1="319.20" y1="175.40" x2="327.60" y2="175.40" stroke="#1a1a1a" stroke-width="1.1" />
<rect x="366.55" y="167.5" width="8.4" height="91.50" rx="1.2" fill="#fff" stroke="#1a1a1a" stroke-width="1.5"/>
<line x1="367.75" y1="176.00" x2="367.75" y2="258.00" stroke="#666" stroke-width="0.6" />
<line x1="373.75" y1="176.00" x2="373.75" y2="258.00" stroke="#666" stroke-width="0.6" />
<line x1="366.55" y1="175.40" x2="374.95" y2="175.40" stroke="#1a1a1a" stroke-width="1.1" />
<rect x="413.90" y="167.5" width="8.4" height="91.50" rx="1.2" fill="#fff" stroke="#1a1a1a" stroke-width="1.5"/>
<line x1="415.10" y1="176.00" x2="415.10" y2="258.00" stroke="#666" stroke-width="0.6" />
<line x1="421.10" y1="176.00" x2="421.10" y2="258.00" stroke="#666" stroke-width="0.6" />
<line x1="413.90" y1="175.40" x2="422.30" y2="175.40" stroke="#1a1a1a" stroke-width="1.1" />
<rect x="461.25" y="167.5" width="8.4" height="91.50" rx="1.2" fill="#fff" stroke="#1a1a1a" stroke-width="1.5"/>
<line x1="462.45" y1="176.00" x2="462.45" y2="258.00" stroke="#666" stroke-width="0.6" />
<line x1="468.45" y1="176.00" x2="468.45" y2="258.00" stroke="#666" stroke-width="0.6" />
<line x1="461.25" y1="175.40" x2="469.65" y2="175.40" stroke="#1a1a1a" stroke-width="1.1" />
<rect x="508.60" y="167.5" width="8.4" height="91.50" rx="1.2" fill="#fff" stroke="#1a1a1a" stroke-width="1.5"/>
<line x1="509.80" y1="176.00" x2="509.80" y2="258.00" stroke="#666" stroke-width="0.6" />
<line x1="515.80" y1="176.00" x2="515.80" y2="258.00" stroke="#666" stroke-width="0.6" />
<line x1="508.60" y1="175.40" x2="517.00" y2="175.40" stroke="#1a1a1a" stroke-width="1.1" />
<rect x="555.95" y="167.5" width="8.4" height="91.50" rx="1.2" fill="#fff" stroke="#1a1a1a" stroke-width="1.5"/>
<line x1="557.15" y1="176.00" x2="557.15" y2="258.00" stroke="#666" stroke-width="0.6" />
<line x1="563.15" y1="176.00" x2="563.15" y2="258.00" stroke="#666" stroke-width="0.6" />
<line x1="555.95" y1="175.40" x2="564.35" y2="175.40" stroke="#1a1a1a" stroke-width="1.1" />
<path d="M446.5,34.8 C446.17,35.43 445.28,37.43 444.50,38.60 C443.72,39.77 442.55,40.50 441.80,41.80 C441.05,43.10 440.47,44.58 440.00,46.40 C439.53,48.22 439.00,50.88 439.00,52.70 C439.00,54.52 439.38,55.78 440.00,57.30 C440.62,58.82 441.78,59.98 442.70,61.80 C443.62,63.62 444.45,65.85 445.50,68.20 C446.55,70.55 448.02,73.70 449.00,75.90 C449.98,78.10 450.93,79.43 451.40,81.40 C451.87,83.37 452.12,85.13 451.80,87.70 C451.48,90.27 449.97,94.62 449.50,96.80 C449.03,98.98 449.08,100.13 449.00,100.80 L459,100.8 L459,100.8 C459.17,99.38 459.83,95.23 460.00,92.30 C460.17,89.37 460.23,86.25 460.00,83.20 C459.77,80.15 459.60,76.80 458.60,74.00 C457.60,71.20 455.20,68.73 454.00,66.40 C452.80,64.07 452.23,61.98 451.40,60.00 C450.57,58.02 449.53,56.47 449.00,54.50 C448.47,52.53 448.12,50.02 448.20,48.20 C448.28,46.38 448.82,45.13 449.50,43.60 C450.18,42.07 451.08,40.47 452.30,39.00 C453.52,37.53 456.05,35.50 456.80,34.80 Z" fill="#fff"/>
<path d="M446.5,34.8 C446.17,35.43 445.28,37.43 444.50,38.60 C443.72,39.77 442.55,40.50 441.80,41.80 C441.05,43.10 440.47,44.58 440.00,46.40 C439.53,48.22 439.00,50.88 439.00,52.70 C439.00,54.52 439.38,55.78 440.00,57.30 C440.62,58.82 441.78,59.98 442.70,61.80 C443.62,63.62 444.45,65.85 445.50,68.20 C446.55,70.55 448.02,73.70 449.00,75.90 C449.98,78.10 450.93,79.43 451.40,81.40 C451.87,83.37 452.12,85.13 451.80,87.70 C451.48,90.27 449.97,94.62 449.50,96.80 C449.03,98.98 449.08,100.13 449.00,100.80" fill="none" stroke="#333" stroke-width="0.8"/>
<path d="M456.8,34.8 C456.05,35.50 453.52,37.53 452.30,39.00 C451.08,40.47 450.18,42.07 449.50,43.60 C448.82,45.13 448.28,46.38 448.20,48.20 C448.12,50.02 448.47,52.53 449.00,54.50 C449.53,56.47 450.57,58.02 451.40,60.00 C452.23,61.98 452.80,64.07 454.00,66.40 C455.20,68.73 457.60,71.20 458.60,74.00 C459.60,76.80 459.77,80.15 460.00,83.20 C460.23,86.25 460.17,89.37 460.00,92.30 C459.83,95.23 459.17,99.38 459.00,100.80" fill="none" stroke="#333" stroke-width="0.8"/>
<path d="M452.5,183.5 C452.00,184.42 450.45,187.08 449.50,189.00 C448.55,190.92 447.40,192.33 446.80,195.00 C446.20,197.67 445.70,202.50 445.90,205.00 C446.10,207.50 446.78,207.65 448.00,210.00 C449.22,212.35 451.87,215.88 453.20,219.10 C454.53,222.32 455.53,225.90 456.00,229.30 C456.47,232.70 456.47,236.08 456.00,239.50 C455.53,242.92 454.15,246.68 453.20,249.80 C452.25,252.92 450.78,256.80 450.30,258.20 L460.3,258.2 L460.3,258.2 C460.53,257.75 460.80,257.87 461.70,255.50 C462.60,253.13 464.85,247.42 465.70,244.00 C466.55,240.58 467.00,238.58 466.80,235.00 C466.60,231.42 465.82,226.67 464.50,222.50 C463.18,218.33 460.40,212.92 458.90,210.00 C457.40,207.08 456.23,207.05 455.50,205.00 C454.77,202.95 454.50,199.70 454.50,197.70 C454.50,195.70 454.92,194.53 455.50,193.00 C456.08,191.47 457.58,189.25 458.00,188.50 Z" fill="#fff"/>
<path d="M452.5,183.5 C452.00,184.42 450.45,187.08 449.50,189.00 C448.55,190.92 447.40,192.33 446.80,195.00 C446.20,197.67 445.70,202.50 445.90,205.00 C446.10,207.50 446.78,207.65 448.00,210.00 C449.22,212.35 451.87,215.88 453.20,219.10 C454.53,222.32 455.53,225.90 456.00,229.30 C456.47,232.70 456.47,236.08 456.00,239.50 C455.53,242.92 454.15,246.68 453.20,249.80 C452.25,252.92 450.78,256.80 450.30,258.20" fill="none" stroke="#222" stroke-width="0.9" stroke-dasharray="4 1.5"/>
<path d="M458,188.5 C457.58,189.25 456.08,191.47 455.50,193.00 C454.92,194.53 454.50,195.70 454.50,197.70 C454.50,199.70 454.77,202.95 455.50,205.00 C456.23,207.05 457.40,207.08 458.90,210.00 C460.40,212.92 463.18,218.33 464.50,222.50 C465.82,226.67 466.60,231.42 466.80,235.00 C467.00,238.58 466.55,240.58 465.70,244.00 C464.85,247.42 462.60,253.13 461.70,255.50 C460.80,257.87 460.53,257.75 460.30,258.20" fill="none" stroke="#222" stroke-width="0.9" stroke-dasharray="4 1.5"/>
<line x1="460.30" y1="259.00" x2="469.30" y2="259.00" stroke="#1a1a1a" stroke-width="1.2" />
<line x1="310.30" y1="67.50" x2="572.30" y2="67.50" stroke="#333" stroke-width="0.9" stroke-dasharray="13 3 1.5 3"/>
<g transform="translate(151.7,186.6) skewX(-17.5)"><path d="M7.5,-8 H1.2 Q0,-8 0,-6.8 V-5.2 Q0,-4 1.2,-4 H6.3 Q7.5,-4 7.5,-2.8 V-1.2 Q7.5,0 6.3,0 H0" fill="none" stroke="#555" stroke-width="3.4" stroke-linecap="square" stroke-linejoin="round"/><path d="M7.5,-8 H1.2 Q0,-8 0,-6.8 V-5.2 Q0,-4 1.2,-4 H6.3 Q7.5,-4 7.5,-2.8 V-1.2 Q7.5,0 6.3,0 H0" fill="none" stroke="#fff" stroke-width="1.5" stroke-linejoin="round"/></g>
<g transform="translate(165.4,186.6) skewX(-17.5)"><path d="M0,-8 V-1.2 Q0,0 1.2,0 H6.3 Q7.5,0 7.5,-1.2 V-8" fill="none" stroke="#555" stroke-width="3.4" stroke-linecap="square" stroke-linejoin="round"/><path d="M0,-8 V-1.2 Q0,0 1.2,0 H6.3 Q7.5,0 7.5,-1.2 V-8" fill="none" stroke="#fff" stroke-width="1.5" stroke-linejoin="round"/></g>
<g transform="translate(178.6,186.6) skewX(-17.5)"><path d="M0.3,-8 H6.3 Q7.5,-8 7.5,-6.8 V-5.2 Q7.5,-4 6.3,-4 H1.2 Q0,-4 0,-2.8 V0" fill="none" stroke="#555" stroke-width="3.4" stroke-linecap="square" stroke-linejoin="round"/><path d="M0.3,-8 H6.3 Q7.5,-8 7.5,-6.8 V-5.2 Q7.5,-4 6.3,-4 H1.2 Q0,-4 0,-2.8 V0" fill="none" stroke="#fff" stroke-width="1.5" stroke-linejoin="round"/></g>
<g transform="translate(191.3,186.6) skewX(-17.5)"><path d="M0,-8 V-1.2 Q0,0 1.2,0 H6.3 Q7.5,0 7.5,-1.2 V-8" fill="none" stroke="#555" stroke-width="3.4" stroke-linecap="square" stroke-linejoin="round"/><path d="M0,-8 V-1.2 Q0,0 1.2,0 H6.3 Q7.5,0 7.5,-1.2 V-8" fill="none" stroke="#fff" stroke-width="1.5" stroke-linejoin="round"/></g>
<text x="149" y="199.2" font-size="11.3" font-weight="bold" text-rendering="geometricPrecision" fill="#444" textLength="54.3" lengthAdjust="spacingAndGlyphs">TB/D-9.52</text>
<path d="M136,259.5 L136,175 Q136,168 143,168 L210,168 Q217,168 217,175 L217,259.5" fill="none" stroke="#1a1a1a" stroke-width="1.4"/>
<line x1="103.50" y1="259.50" x2="245.00" y2="259.50" stroke="#4a4a4a" stroke-width="1" />
<line x1="103.50" y1="167.50" x2="146.00" y2="167.50" stroke="#4a4a4a" stroke-width="1" />
<line x1="105.60" y1="167.50" x2="105.60" y2="259.50" stroke="#4a4a4a" stroke-width="1" />
<path d="M105.60,167.50 L107.05,174.70 L104.15,174.70 Z" fill="#333"/>
<path d="M105.60,259.50 L104.15,252.30 L107.05,252.30 Z" fill="#333"/>
<line x1="243.40" y1="175.00" x2="243.40" y2="321.00" stroke="#4a4a4a" stroke-width="1" />
<path d="M243.40,259.50 L244.85,266.70 L241.95,266.70 Z" fill="#333"/>
<path d="M243.40,321.00 L241.95,313.80 L244.85,313.80 Z" fill="#333"/>
<rect x="174.3" y="259.5" width="4.1" height="61.7" fill="#fff" stroke="#1a1a1a" stroke-width="0.9"/>
<rect x="174.6" y="292" width="1.4" height="29" fill="#999"/>
<line x1="174.30" y1="312.30" x2="178.40" y2="312.30" stroke="#4a4a4a" stroke-width="0.8" />
<line x1="178.50" y1="321.20" x2="243.40" y2="321.20" stroke="#4a4a4a" stroke-width="0.9" />
<line x1="101.00" y1="300.70" x2="192.50" y2="300.70" stroke="#4a4a4a" stroke-width="0.9" />
<path d="M174.30,300.70 L167.10,302.15 L167.10,299.25 Z" fill="#333"/>
<path d="M178.40,300.70 L185.60,299.25 L185.60,302.15 Z" fill="#333"/>
<line x1="135.50" y1="259.50" x2="135.50" y2="369.00" stroke="#4a4a4a" stroke-width="0.9" />
<line x1="217.50" y1="259.50" x2="217.50" y2="369.00" stroke="#4a4a4a" stroke-width="0.9" />
<line x1="176.10" y1="321.20" x2="176.10" y2="340.00" stroke="#4a4a4a" stroke-width="0.9" />
<line x1="135.50" y1="339.50" x2="176.10" y2="339.50" stroke="#4a4a4a" stroke-width="0.9" />
<path d="M135.50,339.50 L142.70,338.05 L142.70,340.95 Z" fill="#333"/>
<path d="M176.10,339.50 L168.90,340.95 L168.90,338.05 Z" fill="#333"/>
<line x1="135.50" y1="368.50" x2="217.50" y2="368.50" stroke="#4a4a4a" stroke-width="0.9" />
<path d="M135.50,368.50 L142.70,367.05 L142.70,369.95 Z" fill="#333"/>
<path d="M217.50,368.50 L210.30,369.95 L210.30,367.05 Z" fill="#333"/>
<line x1="318.50" y1="259.00" x2="318.50" y2="400.70" stroke="#4a4a4a" stroke-width="1" />
<line x1="564.50" y1="259.00" x2="564.50" y2="400.70" stroke="#4a4a4a" stroke-width="1" />
<line x1="347.00" y1="322.00" x2="347.00" y2="379.00" stroke="#4a4a4a" stroke-width="0.9" />
<line x1="394.15" y1="322.00" x2="394.15" y2="344.50" stroke="#4a4a4a" stroke-width="0.9" />
<line x1="535.60" y1="322.00" x2="535.60" y2="379.00" stroke="#4a4a4a" stroke-width="0.9" />
<line x1="526.80" y1="312.00" x2="526.80" y2="349.50" stroke="#4a4a4a" stroke-width="0.9" />
<line x1="544.40" y1="312.00" x2="544.40" y2="349.50" stroke="#4a4a4a" stroke-width="0.9" />
<line x1="278.20" y1="343.90" x2="394.15" y2="343.90" stroke="#4a4a4a" stroke-width="1" />
<path d="M318.50,343.90 L325.70,342.45 L325.70,345.35 Z" fill="#333"/>
<path d="M347.00,343.90 L339.80,345.35 L339.80,342.45 Z" fill="#333"/>
<path d="M347.00,343.90 L354.20,342.45 L354.20,345.35 Z" fill="#333"/>
<path d="M394.15,343.90 L386.95,345.35 L386.95,342.45 Z" fill="#333"/>
<line x1="478.50" y1="348.80" x2="526.80" y2="348.80" stroke="#4a4a4a" stroke-width="1" />
<line x1="544.40" y1="348.80" x2="558.00" y2="348.80" stroke="#4a4a4a" stroke-width="1" />
<path d="M526.80,348.80 L519.60,350.25 L519.60,347.35 Z" fill="#333"/>
<path d="M544.40,348.80 L551.60,347.35 L551.60,350.25 Z" fill="#333"/>
<line x1="347.00" y1="378.20" x2="535.60" y2="378.20" stroke="#4a4a4a" stroke-width="1" />
<path d="M347.00,378.20 L354.20,376.75 L354.20,379.65 Z" fill="#333"/>
<path d="M535.60,378.20 L528.40,379.65 L528.40,376.75 Z" fill="#333"/>
<line x1="318.50" y1="399.80" x2="564.50" y2="399.80" stroke="#4a4a4a" stroke-width="1" />
<path d="M318.50,399.80 L325.70,398.35 L325.70,401.25 Z" fill="#333"/>
<path d="M564.50,399.80 L557.30,401.25 L557.30,398.35 Z" fill="#333"/>
<text x="103.55" y="233.73" font-size="15.5" text-rendering="geometricPrecision" fill="#222" textLength="41.51" lengthAdjust="spacingAndGlyphs" transform="rotate(-90 103.55 233.73)" stroke="#fff" stroke-width="0.3">18.50</text>
<text x="241.55" y="253.12" font-size="15.5" text-rendering="geometricPrecision" fill="#222" textLength="77.49" lengthAdjust="spacingAndGlyphs" transform="rotate(-90 241.55 253.12)" stroke="#fff" stroke-width="0.3">12.50±0.3</text>
<text x="101.69" y="298.7" font-size="15.5" text-rendering="geometricPrecision" fill="#222" textLength="33.47" lengthAdjust="spacingAndGlyphs" stroke="#fff" stroke-width="0.3">0.80</text>
<text x="138.73" y="337.8" font-size="15.5" text-rendering="geometricPrecision" fill="#222" textLength="34.75" lengthAdjust="spacingAndGlyphs" stroke="#fff" stroke-width="0.3">8.25</text>
<text x="155.45" y="366.9" font-size="15.5" text-rendering="geometricPrecision" fill="#222" textLength="41.7" lengthAdjust="spacingAndGlyphs" stroke="#fff" stroke-width="0.3">16.50</text>
<text x="277.86" y="342.1" font-size="15.5" text-rendering="geometricPrecision" fill="#222" textLength="33.39" lengthAdjust="spacingAndGlyphs" stroke="#fff" stroke-width="0.3">5.76</text>
<text x="353.35" y="342.65" font-size="15.5" text-rendering="geometricPrecision" fill="#222" textLength="34.3" lengthAdjust="spacingAndGlyphs" stroke="#fff" stroke-width="0.3">9.52</text>
<text x="478.88" y="347.0" font-size="15.5" text-rendering="geometricPrecision" fill="#222" textLength="33.35" lengthAdjust="spacingAndGlyphs" stroke="#fff" stroke-width="0.3">3.60</text>
<text x="399.45" y="372.4" font-size="15.5" text-rendering="geometricPrecision" fill="#222" textLength="84.85" lengthAdjust="spacingAndGlyphs" stroke="#fff" stroke-width="0.3">9.52x(P−1)</text>
<text x="404.98" y="397.9" font-size="15.5" text-rendering="geometricPrecision" fill="#222" textLength="72.63" lengthAdjust="spacingAndGlyphs" stroke="#fff" stroke-width="0.3">9.52xP+2</text>
</svg>
</body></html>
